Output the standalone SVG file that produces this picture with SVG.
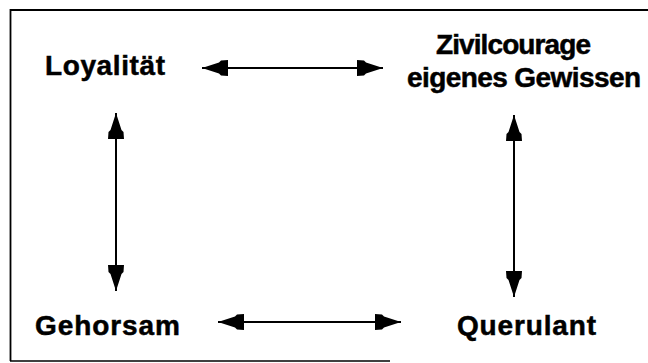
<svg xmlns="http://www.w3.org/2000/svg" width="648" height="363" viewBox="0 0 648 363">
  <style>
    .lbl { font-family: "Liberation Sans", Arial, Helvetica, sans-serif; font-weight: bold; font-size: 28px; fill: #000; stroke: #000; stroke-width: 0.5; }
    .frame { stroke: #000; fill: none; }
    .conn { stroke: #000; stroke-width: 2; fill: none; marker-start: url(#head); marker-end: url(#head); }
  </style>
  <defs>
    <marker id="head" markerUnits="userSpaceOnUse" viewBox="0 -9 27 18" refX="26" refY="0" markerWidth="27" markerHeight="18" orient="auto-start-reverse">
      <path d="M0,-8 L7,-7.5 L9,-5.5 L26,0 L9,5.5 L7,7.5 L0,8 Z" fill="#000"/>
    </marker>
  </defs>
  <rect width="648" height="363" fill="#fff"/>

  <!-- open frame: left, top and bottom edges -->
  <g id="frame">
    <line class="frame" x1="10.5" y1="9" x2="10.5" y2="361" stroke-width="1.8"/>
    <line class="frame" x1="10" y1="10" x2="648" y2="10" stroke-width="2.2"/>
    <line class="frame" x1="10" y1="361" x2="390" y2="361" stroke-width="1.6"/>
  </g>

  <g id="connectors">
    <line class="conn" x1="202" y1="68" x2="383" y2="68"/>
    <line class="conn" x1="218" y1="322" x2="401" y2="322"/>
    <line class="conn" x1="116" y1="113" x2="116" y2="291"/>
    <line class="conn" x1="514" y1="115" x2="514" y2="297"/>
  </g>

  <g id="loyalitaet">
    <text class="lbl" x="45" y="75" textLength="120">Loyalität</text>
  </g>
  <g id="zivilcourage">
    <text class="lbl" x="436" y="54" textLength="155">Zivilcourage</text>
    <text class="lbl" x="407" y="87" textLength="234">eigenes Gewissen</text>
  </g>
  <g id="gehorsam">
    <text class="lbl" x="35" y="335" textLength="145">Gehorsam</text>
  </g>
  <g id="querulant">
    <text class="lbl" x="457" y="335" textLength="139">Querulant</text>
  </g>
</svg>
